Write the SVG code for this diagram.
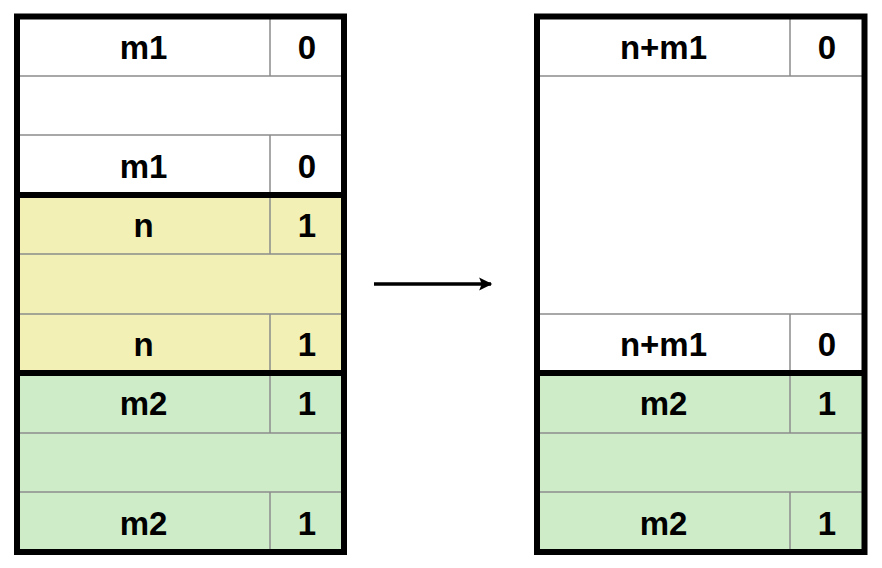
<svg xmlns="http://www.w3.org/2000/svg" width="882" height="568" viewBox="0 0 882 568">
<style>
.thin{stroke:#8c8c8c;stroke-width:1.5;fill:none}
.thick{stroke:#000;stroke-width:6;fill:none}
.t{font-family:"Liberation Sans",Arial,sans-serif;font-weight:bold;font-size:33px;fill:#000;text-anchor:middle}
.w{fill:#fff}.y{fill:#f3f0b6}.g{fill:#cfecc9}
</style>
<defs>
<marker id="ah" viewBox="0 0 10 10" refX="9" refY="5" markerWidth="4.6" markerHeight="4" orient="auto" markerUnits="strokeWidth"><path d="M0,0 L10,5 L0,10 L2,5 Z" fill="#000"/></marker>
</defs>
<rect width="882" height="568" fill="#fff"/>
<g id="left-free-m1">
<rect class="w" x="17" y="16.5" width="327" height="178.5"/>
<path class="thin" d="M17,76H344M17,135H344M270,16.5V76M270,135V195"/>
<text class="t" x="143.5" y="59">m1</text><text class="t" x="307" y="59">0</text>
<text class="t" x="143.5" y="178">m1</text><text class="t" x="307" y="178">0</text>
</g>
<g id="left-alloc-n">
<rect class="y" x="17" y="195" width="327" height="178"/>
<path class="thin" d="M17,254H344M17,314H344M270,195V254M270,314V373"/>
<text class="t" x="143.5" y="237">n</text><text class="t" x="307" y="237">1</text>
<text class="t" x="143.5" y="356">n</text><text class="t" x="307" y="356">1</text>
</g>
<g id="left-alloc-m2">
<rect class="g" x="17" y="373" width="327" height="179"/>
<path class="thin" d="M17,433H344M17,492H344M270,373V433M270,492V552"/>
<text class="t" x="143.5" y="415">m2</text><text class="t" x="307" y="415">1</text>
<text class="t" x="143.5" y="535">m2</text><text class="t" x="307" y="535">1</text>
</g>
<g id="left-borders">
<rect class="thick" x="17" y="16.5" width="327" height="535.5"/>
<path class="thick" d="M17,195H344M17,373H344"/>
</g>
<g id="right-free-nm1">
<rect class="w" x="537" y="16.5" width="327.5" height="356.5"/>
<path class="thin" d="M537,76H864.5M537,314H864.5M790,16.5V76M790,314V373"/>
<text class="t" x="663.5" y="59">n+m1</text><text class="t" x="827" y="59">0</text>
<text class="t" x="663.5" y="356">n+m1</text><text class="t" x="827" y="356">0</text>
</g>
<g id="right-alloc-m2">
<rect class="g" x="537" y="373" width="327.5" height="179"/>
<path class="thin" d="M537,433H864.5M537,492H864.5M790,373V433M790,492V552"/>
<text class="t" x="663.5" y="415">m2</text><text class="t" x="827" y="415">1</text>
<text class="t" x="663.5" y="535">m2</text><text class="t" x="827" y="535">1</text>
</g>
<g id="right-borders">
<rect class="thick" x="537" y="16.5" width="327.5" height="535.5"/>
<path class="thick" d="M537,373H864.5"/>
</g>
<g id="connectors">
<line x1="374" y1="284" x2="491" y2="284" stroke="#000" stroke-width="3.3" marker-end="url(#ah)"/>
</g>
</svg>
